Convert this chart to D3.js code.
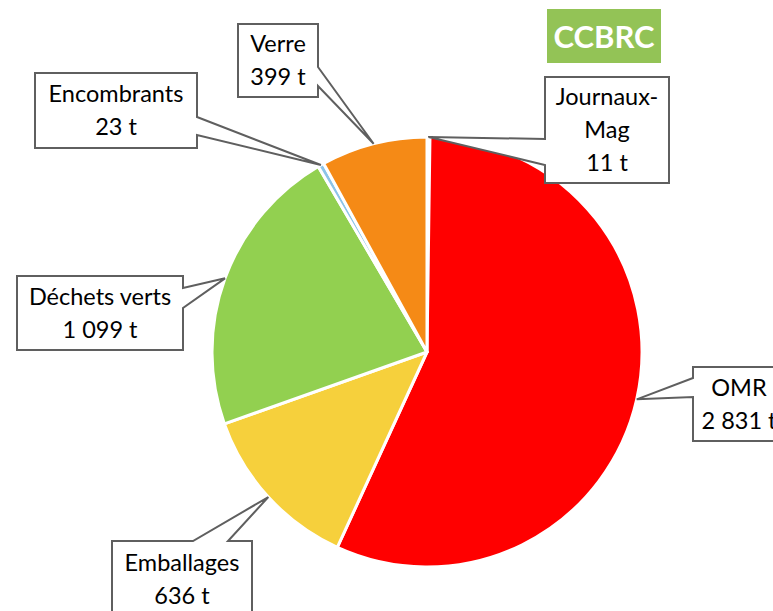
<!DOCTYPE html>
<html>
<head>
<meta charset="utf-8">
<script src="https://cdn.jsdelivr.net/npm/d3@7"></script>
<style>
	html, body { margin: 0; padding: 0; background: #fff; }
	text { font-family: Lato, "Open Sans", sans-serif; }
</style>
</head>
<body>
<div class="wrapper"></div>
<script>

// ---- data ----
var categories = ["Journaux-Mag", "OMR", "Emballages", "Déchets verts", "Encombrants", "Verre"];
var tonnes = [11, 2831, 636, 1099, 23, 399];
var valueLabels = ["11 t", "2 831 t", "636 t", "1 099 t", "23 t", "399 t"];
var labelLines = [["Journaux-", "Mag"], ["OMR"], ["Emballages"], ["Déchets verts"], ["Encombrants"], ["Verre"]];
var colors = ["#f2f2f2", "#ff0000", "#f6d03c", "#92d050", "#8cc4e8", "#f58a16"];

// callout boxes: x, y, w, h, side of the wedge, and where the wedge leaves that side
var callouts = [
	{x: 545, y: 77, w: 124, h: 106, side: "left", a: 139, b: 165},
	{x: 693, y: 367, w: 92, h: 74, side: "left", a: 378, b: 397},
	{x: 112, y: 541, w: 140, h: 76, side: "top", a: 193, b: 228},
	{x: 17, y: 276, w: 166, h: 74, side: "right", a: 288, b: 308},
	{x: 35, y: 73, w: 162, h: 75, side: "right", a: 117, b: 135},
	{x: 238, y: 24, w: 80, h: 73, side: "right", a: 67, b: 86}
];

var W = 773, H = 611,
	CX = 427, CY = 352,
	R = 215,
	LINE_H = 33;

var svg = d3.select(".wrapper")
	.append("svg")
		.attr("width", W)
		.attr("height", H);

var pie = d3.pie().sort(null).value(function(d) { return d; });
var arcs = pie(tonnes);
var arc = d3.arc().innerRadius(0).outerRadius(R);

var g = svg.append("g").attr("transform", "translate(" + CX + "," + CY + ")");

g.selectAll("path.slice")
	.data(arcs)
	.enter()
	.append("path")
		.attr("class", "slice")
		.attr("d", arc)
		.attr("fill", function(d, i) { return colors[i]; })
		.attr("stroke", "#fff")
		.attr("stroke-width", 3)
		.attr("stroke-linejoin", "round");

// tip of each callout sits on the rim at the slice's middle angle
function tipOf(d) {
	var a = (d.startAngle + d.endAngle) / 2;
	return [CX + R * Math.sin(a), CY - R * Math.cos(a)];
}

function calloutPath(c, tip) {
	var x0 = c.x, y0 = c.y, x1 = c.x + c.w, y1 = c.y + c.h;
	var p = [];
	if (c.side == "top") {
		p = [[x0, y0], [c.a, y0], tip, [c.b, y0], [x1, y0], [x1, y1], [x0, y1]];
	} else if (c.side == "right") {
		p = [[x0, y0], [x1, y0], [x1, c.a], tip, [x1, c.b], [x1, y1], [x0, y1]];
	} else {
		p = [[x0, y0], [x1, y0], [x1, y1], [x0, y1], [x0, c.b], tip, [x0, c.a]];
	}
	return "M" + p.map(function(q) { return q[0] + "," + q[1]; }).join("L") + "Z";
}

var labels = svg.selectAll("g.callout")
	.data(arcs)
	.enter()
	.append("g")
		.attr("class", "callout");

labels.append("path")
	.attr("d", function(d, i) { return calloutPath(callouts[i], tipOf(d)); })
	.attr("fill", "#fff")
	.attr("stroke", "#5f5f5f")
	.attr("stroke-width", 2)
	.attr("stroke-linejoin", "miter");

labels.append("text")
	.attr("text-anchor", "middle")
	.attr("font-size", 23.5)
	.attr("fill", "#000")
	.each(function(d, i) {
		var c = callouts[i];
		var lines = labelLines[i].concat([valueLabels[i]]);
		var n = lines.length;
		var t = d3.select(this);
		lines.forEach(function(s, k) {
			t.append("tspan")
				.attr("x", c.x + c.w / 2)
				.attr("y", c.y + c.h / 2 + (k - (n - 1) / 2) * LINE_H + 8)
				.text(s);
		});
	});

// badge
svg.append("rect")
	.attr("x", 547).attr("y", 9)
	.attr("width", 114).attr("height", 54)
	.attr("fill", "#93c356");

svg.append("text")
	.attr("x", 604).attr("y", 48)
	.attr("text-anchor", "middle")
	.attr("font-size", 31)
	.attr("font-weight", "bold")
	.attr("fill", "#fff")
	.text("CCBRC");

</script>
</body>
</html>
